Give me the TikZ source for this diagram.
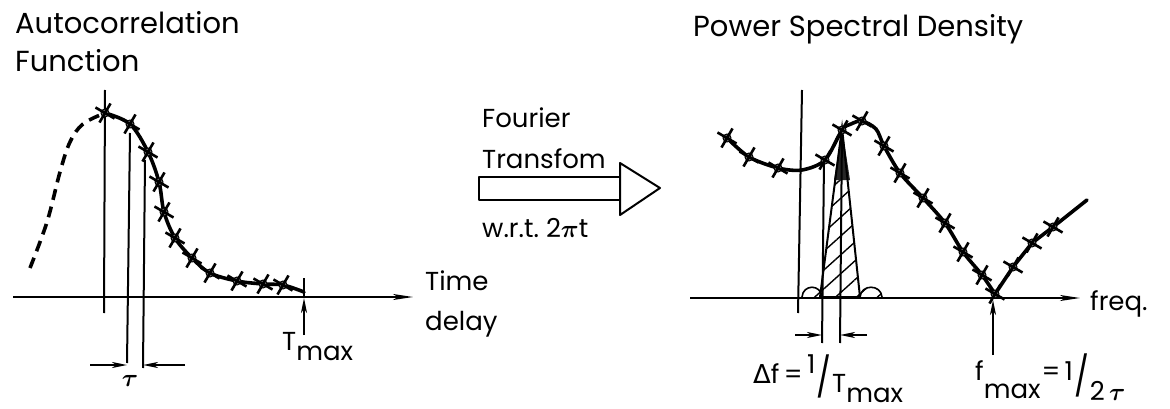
\documentclass[tikz,border=0pt]{standalone}
\usepackage{amsmath}
\usepackage{fontspec}
\setmainfont{Poppins}
\newfontfamily\grk{DejaVu Sans}
\usetikzlibrary{arrows.meta,shapes.misc,patterns.meta}
\newcommand\lowr[2]{\raisebox{#1}{#2}}
\begin{document}
\begin{tikzpicture}[x=1pt,y=-1pt,
  axis/.style={line width=1.6pt, -{Stealth[length=20pt,width=6pt,inset=5pt]}},
  guide/.style={line width=2pt},
  curve/.style={line width=3.6pt, line join=round, line cap=round},
  dimarrow/.style={line width=1.8pt, -{Stealth[length=15pt,width=6pt,inset=4pt]}},
  xdot/.style={circle, fill=black!55, draw=black, line width=1pt, minimum size=8pt, inner sep=0pt},
  xm/.style={draw, cross out, minimum size=13pt, inner sep=0pt, line width=2.6pt},
  title/.style={font=\fontsize{29}{32}\selectfont, inner sep=0pt, anchor=base west},
  lbl/.style={font=\fontsize{26}{30}\selectfont, inner sep=0pt, anchor=base west},
  hatch/.style={pattern={Lines[angle=42,distance=14pt,line width=1.4pt]}},
]
\useasboundingbox (0,0) rectangle (1170,409);

% ---------------- autocorrelation function ----------------
\node[title] (acf1) at (15,34) {Autocorrelation};
\node[title] (acf2) at (15,72) {Function};

\coordinate (la) at (13,297);
\coordinate (lb) at (413,297);
\draw[axis] (la) -- (lb);
\node[lbl] (time) at (425,290) {Time};
\node[lbl] (delay) at (425,330) {delay};

% lag grid lines
\draw[guide] (105,90) -- (104,313);
\draw[guide] (130,133) -- (127,363);
\draw[guide] (145,160) -- (143,368);

% lag spacing tau
\coordinate (t1) at (90,365);  \coordinate (t1e) at (127,365);
\coordinate (t2) at (185,365); \coordinate (t2e) at (143,365);
\draw[dimarrow] (t1) -- (t1e);
\draw[dimarrow] (t2) -- (t2e);
\node[font=\fontsize{26}{28}\selectfont, inner sep=0pt] (tau) at (130,381) {$\boldsymbol{\tau}$};

% extrapolated part and measured part
\draw[curve, dashed, dash pattern=on 11pt off 7pt, line cap=butt]
  plot[smooth, tension=0.6] coordinates {(30,268) (47,222) (60,172) (70,142) (83,124) (105,113)};
\draw[curve]
  plot[smooth, tension=0.55] coordinates {(105,113) (130,124) (148,152) (159,182) (164,212) (175,238)
    (192,258) (210,273) (237,281) (263,284) (283,285) (304,292)};
\foreach \p [count=\i] in {(105,113),(130,124),(148,152),(159,182),(164,212),(175,238),(192,258),
    (210,273),(237,281),(263,284),(283,285)}
  {\node[xdot] (a\i) at \p {}; \node[xm, rotate=15] (ax\i) at \p {};}

% maximum lag
\draw[guide] (304,278) -- (304,297);
\coordinate (tm0) at (304,335);
\coordinate (tm1) at (304,298);
\draw[dimarrow] (tm0) -- (tm1);
\node[lbl] (tmax) at (282,350) {T\lowr{-10pt}{max}};

% ---------------- transform arrow ----------------
\node[lbl] (four) at (482,128) {Fourier};
\node[lbl] (trans) at (482,168) {Transfom};
\draw[line width=2pt, line join=round] (479,177) rectangle (620,200);
\draw[line width=2pt, line join=round] (620,163) -- (660,188) -- (620,215) -- cycle;
\node[lbl] (wrt) at (482,237) {w.r.t.\ 2$\boldsymbol{\pi}$t};

% ---------------- power spectral density ----------------
\node[title] (psd) at (693,37) {Power Spectral Density};

\coordinate (ra) at (690,298);
\coordinate (rb) at (1080,298);
\draw[axis] (ra) -- (rb);
\node[lbl] (freq) at (1090,310) {freq.};

% spectral line with its window
\fill[hatch] (842,128) -- (820,297) -- (860,297) -- cycle;
\fill[black!85] (842,128) -- (834,180) -- (850,180) -- cycle;
\draw[guide] (842,128) -- (820,297) -- (860,297) -- cycle;
\filldraw[hatch, draw=black, line width=1.6pt] (802,297) .. controls (803,284) and (821,284) .. (822,297);
\filldraw[hatch, draw=black, line width=1.6pt] (860,297) .. controls (861,284) and (881,284) .. (882,297);

% frequency grid lines
\draw[guide] (802,90) -- (798,313);
\draw[guide] (824,160) -- (822,343);
\draw[guide] (842,130) -- (840,343);

% resolution delta f
\coordinate (d1) at (795,335); \coordinate (d1e) at (822,335);
\coordinate (d2) at (867,335); \coordinate (d2e) at (840,335);
\draw[dimarrow] (d1) -- (d1e);
\draw[dimarrow] (d2) -- (d2e);

\draw[curve]
  plot[smooth, tension=0.5] coordinates {(727,138) (749,157) (778,168) (802,170) (825,160) (842,130)
    (851,124) (862,121) (876,129) (884,146) (900,173) (923,198) (945,223) (963,252) (982,275) (995,294)}
  -- (1013,267) -- (1032,243) -- (1053,227) -- (1087,200);
\foreach \p [count=\i] in {(727,138),(749,157),(778,168),(825,160),(842,130),(862,121),(884,146),
    (900,173),(923,198),(945,223),(963,252),(982,275),(995,294),(1013,267),(1032,243),(1053,227)}
  {\node[xdot] (s\i) at \p {}; \node[xm, rotate=15] (sx\i) at \p {};}

% Nyquist frequency
\coordinate (fm0) at (993,355);
\coordinate (fm1) at (993,300);
\draw[dimarrow] (fm0) -- (fm1);

\node[lbl] (df) at (753,383)
  {{\grk Δ}f\,=\,\lowr{10pt}{1}\kern1pt\lowr{-8pt}{\scalebox{1.2}[1.5]{/}}\kern1pt\lowr{-9pt}{T\lowr{-10pt}{max}}};
\node[lbl] (fmx) at (975,380)
  {f\lowr{-18pt}{max}\kern1pt=\,1\kern1pt\lowr{-10pt}{\scalebox{1.2}[1.5]{/}}\kern1pt\lowr{-20pt}{2\,$\boldsymbol{\tau}$}};
\end{tikzpicture}
\end{document}
